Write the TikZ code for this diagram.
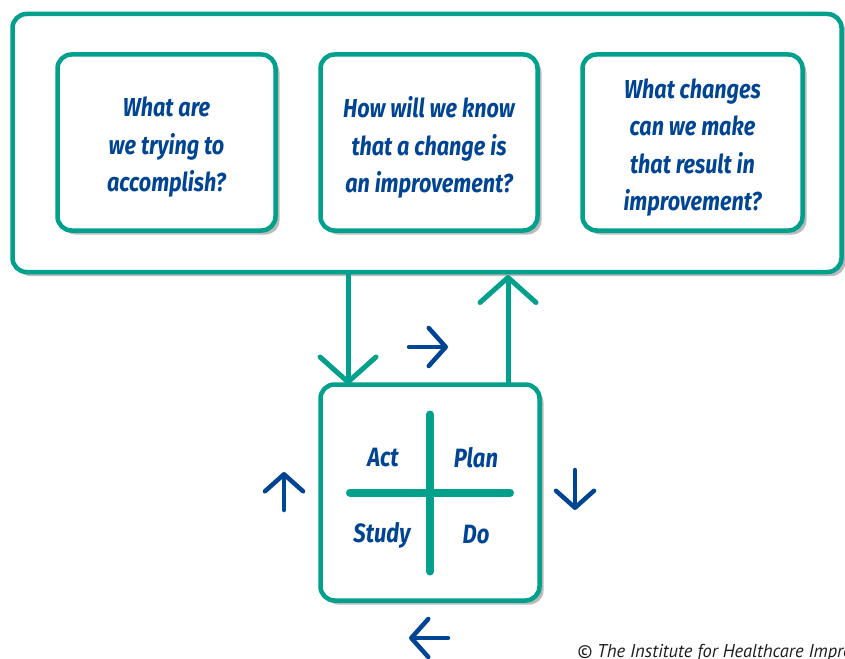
\documentclass[tikz,border=0pt]{standalone}
\usepackage{fontspec}
\setmainfont{PT Sans}
\newfontfamily\qfont{Fira Sans}[FakeStretch=0.83]
\newfontfamily\cfont{PT Sans}
\usetikzlibrary{arrows.meta,shadows,calc}
\definecolor{ihiteal}{RGB}{0,160,140}
\definecolor{ihiblue}{RGB}{0,68,148}
\definecolor{ihigray}{RGB}{30,30,30}
\begin{document}
\begin{tikzpicture}[x=1pt,y=-1pt,
  box/.style={draw=ihiteal, line width=4.5pt, fill=white, rounded corners=14pt,
    inner sep=0pt, outer sep=0pt,
    drop shadow={shadow xshift=4pt, shadow yshift=-4pt, opacity=0.45, fill=black!60}},
  qtext/.style={text=ihiblue, font=\qfont\bfseries\itshape\fontsize{26}{37.5}\selectfont, align=center},
  lbl/.style={text=ihiblue, font=\qfont\bfseries\itshape\fontsize{26.5}{28}\selectfont, inner sep=0pt},
  tarrow/.style={draw=ihiteal, line width=5pt, -{Straight Barb[length=25pt, width=56pt, round]}},
  barrow/.style={draw=ihiblue, line width=4.5pt, line cap=round, -{Straight Barb[length=17pt, width=38pt, round]}},
  crossline/.style={draw=ihiteal, line width=8pt, line cap=round}
]
\useasboundingbox (0,0) rectangle (845,658);

\node[box, minimum width=829pt, minimum height=258pt] (outer) at (427,143) {};
\node[box, minimum width=218pt, minimum height=176pt] (q1) at (166.5,142.5) {};
\node[box, minimum width=217pt, minimum height=176pt] (q2) at (429,142.5) {};
\node[box, minimum width=220pt, minimum height=176pt] (q3) at (692.5,142.5) {};
\node[qtext] (q1t) at ($(q1.center)+(0,5)$) {What are\\we trying to\\accomplish?};
\node[qtext] (q2t) at ($(q2.center)+(0,5)$) {How will we know\\that a change is\\an improvement?};
\node[qtext] (q3t) at ($(q3.center)+(0,5)$) {What changes\\can we make\\that result in\\improvement?};

\node[box, minimum width=219pt, minimum height=216pt] (pdsa) at (430,492.5) {};

\draw[crossline] ($(pdsa.center)+(0,-78)$) -- ($(pdsa.center)+(0,79)$);
\draw[crossline] ($(pdsa.center)+(-80,0)$) -- ($(pdsa.center)+(80,0)$);

\node[lbl] (act) at (383,458) {Act};
\node[lbl] (plan) at (476,458) {Plan};
\node[lbl] (study) at (382,535) {Study};
\node[lbl] (do) at (476,535) {Do};

\draw[tarrow] ([xshift=-82pt]pdsa.north |- outer.south) -- ([xshift=-82pt]pdsa.north);
\draw[tarrow] ([xshift=78pt]pdsa.north) -- ([xshift=78pt,yshift=-3pt]pdsa.north |- outer.south);

\draw[barrow] (409,347) -- (448,347);
\draw[barrow] (575,470) -- (575,510);
\draw[barrow] (448,638) -- (409,638);
\draw[barrow] (284,510) -- (284,472);

\begin{scope}
\clip (0,0) rectangle (845,658);
\node[anchor=base west, inner sep=0pt, text=ihigray, font=\cfont\itshape\fontsize{18.5}{20}\selectfont] (copy) at (577,657)
  {\textcopyright\ The Institute for Healthcare Improvement};
\end{scope}
\end{tikzpicture}
\end{document}
